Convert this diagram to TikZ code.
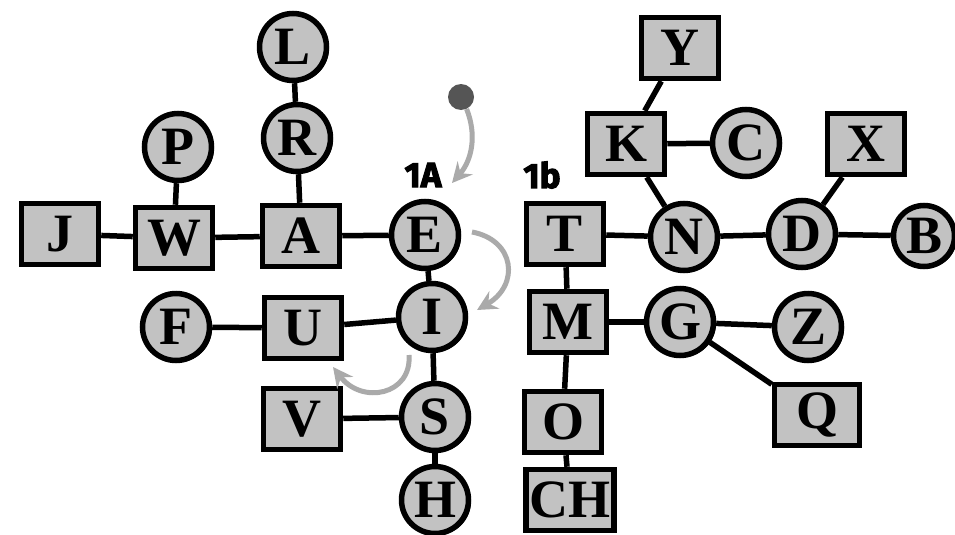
\documentclass[tikz,border=0pt]{standalone}
\usepackage{fontspec}
\setmainfont{Liberation Serif}
\newfontfamily\tagfont[BoldFeatures={FakeBold=3}]{Fira Sans}
\usetikzlibrary{arrows.meta,shadows}
\definecolor{boxgray}{RGB}{194,194,194}
\definecolor{arrowgray}{RGB}{170,170,170}
\definecolor{dotgray}{RGB}{85,85,85}
\begin{document}
\begin{tikzpicture}[x=1pt,y=-1pt,
  base/.style={draw=black, line width=5.5pt, fill=boxgray, inner sep=0pt,
    font=\fontsize{54}{54}\selectfont\bfseries,
    drop shadow={shadow xshift=2.5pt, shadow yshift=-1.5pt, fill=black, opacity=1}},
  rnode/.style={base, circle, minimum size=67pt},
  snode/.style={base, rectangle, minimum width=77pt, minimum height=61pt},
  link/.style={draw=black, line width=5.5pt},
  garrow/.style={draw=arrowgray, line width=5pt,
    -{Stealth[length=20pt,width=20pt,inset=7pt]}},
  tag/.style={font=\tagfont\fontsize{35}{35}\selectfont\bfseries}
]
\useasboundingbox (0,0) rectangle (955,535);
\fill[white] (0,0) rectangle (955,535);

% left group
\node[rnode] (L) at (293,47) {L};
\node[rnode] (R) at (297,138) {R};
\node[rnode] (P) at (178,147) {P};
\node[snode] (J) at (60,234) {J};
\node[snode] (W) at (174,238) {W};
\node[snode] (A) at (301,236) {A};
\node[rnode] (E) at (425,235) {E};
\node[rnode] (I) at (432,317) {I};
\node[snode] (U) at (303,328) {U};
\node[rnode] (F) at (176,327) {F};
\node[rnode] (S) at (435,417) {S};
\node[snode] (V) at (302,419) {V};
\node[rnode] (H) at (435,500) {H};

% right group
\node[snode] (Y) at (680,48) {Y};
\node[snode] (K) at (626,144) {K};
\node[rnode] (C) at (746,143) {C};
\node[snode] (X) at (866,144) {X};
\node[snode] (T) at (565,234) {T};
\node[rnode] (N) at (684,237) {N};
\node[rnode] (D) at (802,234) {D};
\node[rnode, minimum size=61pt] (B) at (924,236) {B};
\node[snode] (M) at (568,322) {M};
\node[rnode] (G) at (680,322) {G};
\node[rnode] (Z) at (808,327) {Z};
\node[snode, minimum width=85pt] (Q) at (817,415) {Q};
\node[snode] (O) at (563,422) {O};
\node[snode, minimum width=88pt] (CH) at (570,500) {CH};

% connectors
\path[link] (J) -- (W);
\path[link] (W) -- (A);
\path[link] (A) -- (E);
\path[link] (W) -- (P);
\path[link] (A) -- (R);
\path[link] (R) -- (L);
\path[link] (E) -- (I);
\path[link] (I) -- (S);
\path[link] (S) -- (H);
\path[link] (I) -- (U);
\path[link] (U) -- (F);
\path[link] (S) -- (V);
\path[link] (T) -- (N);
\path[link] (N) -- (D);
\path[link] (D) -- (B);
\path[link] (N) -- (K);
\path[link] (K) -- (Y);
\path[link] (K) -- (C);
\path[link] (D) -- (X);
\path[link] (T) -- (M);
\path[link] (M) -- (O);
\path[link] (O) -- (CH);
\path[link] (M) -- (G);
\path[link] (G) -- (Z);
\path[link] (G) -- (Q);

% labels
\node[tag] (tA) at (423,175) {1A};
\node[tag] (tb) at (542,175) {1b};

% start dot and grey arrows
\node[circle, fill=dotgray, minimum size=26pt, inner sep=0pt] (dot) at (461,97) {};
\coordinate (a1e) at (452,183);
\coordinate (a2s) at (472,232);
\coordinate (a2e) at (477,310);
\coordinate (a3s) at (409,355);
\coordinate (a3e) at (333,367);
\path[garrow] (dot.-65) .. controls (477,135) and (472,160) .. (a1e);
\path[garrow] (a2s) .. controls (515,240) and (520,285) .. (a2e);
\path[garrow] (a3s) .. controls (412,395) and (362,405) .. (a3e);
\end{tikzpicture}
\end{document}
